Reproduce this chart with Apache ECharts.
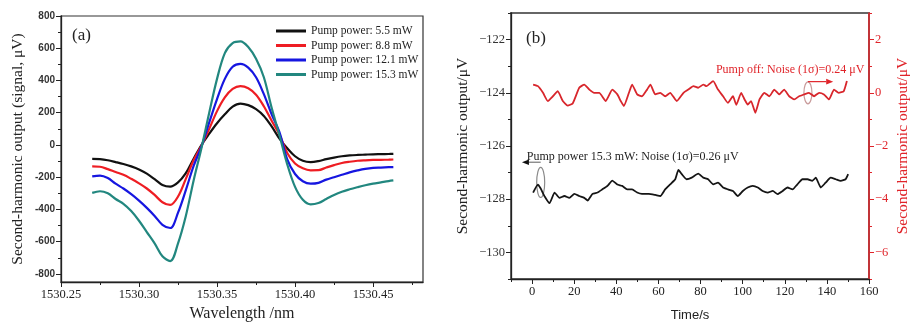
<!DOCTYPE html>
<html>
<head>
<meta charset="utf-8">
<script src="https://cdn.jsdelivr.net/npm/echarts@6/dist/echarts.min.js"></script>
<style>
  html, body { margin: 0; padding: 0; background: #fff; }
  #chart { width: 912px; height: 327px; }
</style>
</head>
<body>
<div id="chart"></div>
<script>
// ---- Panel (a): second-harmonic line shape vs wavelength ----
const wavelength = [
  1530.270, 1530.275, 1530.280, 1530.285, 1530.290, 1530.295, 1530.300, 1530.305,
  1530.310, 1530.315, 1530.320, 1530.325, 1530.330, 1530.335, 1530.340, 1530.345,
  1530.350, 1530.355, 1530.360, 1530.365, 1530.370, 1530.375, 1530.380, 1530.385,
  1530.390, 1530.395, 1530.400, 1530.405, 1530.410, 1530.415, 1530.420, 1530.425,
  1530.430, 1530.435, 1530.440, 1530.445, 1530.450, 1530.455, 1530.460, 1530.463
];
const signal55 = [-86, -88, -95, -106, -118, -133, -152, -178, -212, -248, -258, -232, -175, -85, 0, 70,
  135, 190, 238, 257, 247, 222, 180, 115, 40, -20, -70, -98, -106, -100, -88, -78, -70, -65, -62, -60, -58, -57, -56, -55];
const signal88 = [-133, -135, -150, -168, -185, -210, -238, -270, -310, -355, -372, -320, -210, -95, -5, 100,
  210, 295, 348, 365, 352, 312, 240, 150, 65, -50, -115, -145, -157, -156, -140, -125, -112, -104, -98, -95, -93, -92, -91, -90];
const signal121 = [-195, -190, -205, -240, -270, -305, -345, -390, -440, -495, -515, -420, -280, -130, -10, 140,
  285, 410, 485, 503, 480, 420, 315, 190, 80, -90, -180, -225, -240, -235, -215, -200, -185, -170, -158, -148, -142, -140, -138, -137];
const signal153 = [-297, -287, -300, -335, -365, -410, -470, -540, -610, -690, -720, -610, -440, -220, -20, 200,
  410, 570, 632, 643, 608, 535, 420, 230, 60, -120, -260, -340, -368, -360, -335, -310, -290, -275, -262, -250, -240, -232, -224, -220];
const pumpNames = ['Pump power: 5.5 mW', 'Pump power: 8.8 mW', 'Pump power: 12.1 mW', 'Pump power: 15.3 mW'];
const wlMajor = [1530.25, 1530.30, 1530.35, 1530.40, 1530.45];
const wlMinor = [1530.275, 1530.325, 1530.375, 1530.425, 1530.475];
const sigMajor = [-800, -600, -400, -200, 0, 200, 400, 600, 800];
const sigMinor = [-700, -500, -300, -100, 100, 300, 500, 700];

// ---- Panel (b): output drift over time ----
const timeOff = [0.5, 2.8, 5.2, 7.5, 9.9, 12.2, 14.6, 16.9, 19.3, 22.4, 24.8, 27.2, 29.5, 31.9, 35, 38.1,
  40.5, 42.1, 43.6, 46, 47.5, 49.9, 52.2, 54.6, 56.2, 58.5, 60.9, 63.2, 65.6, 68.7, 71.9, 74.2, 76.6,
  78.9, 81.3, 82.8, 86, 88.3, 90.7, 93, 95.4, 97, 99.3, 100.9, 102.4, 104, 106, 108, 110.3, 112.7, 115,
  117.4, 119.7, 122.1, 124.5, 126.8, 129.2, 131.5, 133.9, 136.3, 138.6, 141, 143.4, 145.6, 148, 149.5];
const outputOff = [0.31, 0.25, 0, -0.31, -0.13, 0.06, -0.31, -0.48, -0.4, 0.19, 0.31, 0.12, 0, 0, -0.31, 0.12,
  -0.06, -0.31, -0.5, 0, 0.31, -0.06, -0.13, 0.12, 0.31, -0.06, 0, -0.13, 0, -0.31, 0, 0.12, 0.25,
  0.19, 0.31, 0.25, 0.44, 0.12, -0.13, -0.38, -0.13, -0.45, 0, -0.25, -0.44, -0.31, -0.75, -0.25, 0, -0.13, 0.12,
  -0.06, 0.12, -0.13, -0.25, -0.13, -0.06, 0, -0.13, 0, -0.06, -0.25, 0.12, 0, 0.06, 0.44];
const timeOn = [0.5, 2.8, 4.1, 6, 8.3, 10.7, 13, 15.4, 17.7, 20.1, 22.4, 24.8, 26.4, 28.7, 31.1, 33.4,
  35.8, 38.1, 40.5, 42.8, 45.2, 47.5, 49.9, 52.2, 55.4, 58.5, 60.9, 63.2, 65.6, 68, 69.5, 71.1, 73.4,
  75.8, 78.9, 81.3, 83.6, 86, 88.3, 90.7, 93, 95.4, 97.7, 100.1, 102.4, 104.8, 107.2, 109.5, 111.9, 114.3,
  116.6, 119, 121.3, 123.7, 126, 128.4, 130.8, 133.1, 134.7, 137.1, 139.4, 141.8, 144.2, 146.6, 148.9, 150.1];
const outputOn = [-127.75, -127.45, -127.6, -127.9, -128.15, -127.75, -127.95, -127.88, -127.95, -127.8, -127.88,
  -127.95, -128.05, -127.8, -127.75, -127.63, -127.5, -127.3, -127.45, -127.5, -127.63, -127.63, -127.75, -127.8,
  -127.8, -127.84, -127.88, -127.63, -127.44, -127.25, -126.9, -127.06, -127.25, -127.19, -127.04, -127.19, -127.25,
  -127.44, -127.38, -127.56, -127.63, -127.69, -127.88, -127.69, -127.56, -127.5, -127.56, -127.69, -127.75, -127.69,
  -127.81, -127.69, -127.56, -127.63, -127.44, -127.25, -127.25, -127.31, -127.19, -127.56, -127.38, -127.19,
  -127.25, -127.31, -127.25, -127.06];
const timeMajor = [0, 20, 40, 60, 80, 100, 120, 140, 160];
const timeMinor = [-10, 10, 30, 50, 70, 90, 110, 130, 150];
const leftMajor = [-130, -128, -126, -124, -122];
const leftMinor = [-131, -129, -127, -125, -123, -121];
const rightMajor = [-6, -4, -2, 0, 2];
const rightMinor = [-7, -5, -3, -1, 1, 3];
const noteOff = 'Pump off: Noise (1σ)=0.24 μV';
const noteOn = 'Pump power 15.3 mW: Noise (1σ)=0.26 μV';

const zip = (xs, ys) => xs.map((x, i) => [x, ys[i]]);
const minus = v => (v < 0 ? '−' + Math.abs(v) : String(v));

const SERIF = '"Liberation Serif", "DejaVu Serif", serif';
const SANS = '"Liberation Sans", Arial, sans-serif';
const RED = '#e0242a';
const lineColors = ['#111111', '#ee1d23', '#1616e0', '#22877f'];

function mainAxis(opts) {
  return Object.assign({
    type: 'value',
    splitLine: { show: false },
    axisTick: { show: true, inside: false, length: 5, lineStyle: { color: '#222', width: 1 } },
    axisLine: { show: true, onZero: false, lineStyle: { color: '#222', width: 1.3 } }
  }, opts);
}
function minorAxis(opts, ticks, color) {
  return Object.assign({
    type: 'value',
    splitLine: { show: false },
    axisLine: { show: false, onZero: false },
    axisLabel: { show: false },
    axisTick: { show: true, inside: false, length: 3, customValues: ticks, lineStyle: { color: color || '#222', width: 1 } }
  }, opts);
}

const chart = echarts.init(document.getElementById('chart'), null, { renderer: 'canvas' });

const option = {
  animation: false,
  backgroundColor: '#fff',
  grid: [
    { left: 61, top: 16, width: 362, height: 268, show: true, borderColor: '#333', borderWidth: 1.2, backgroundColor: 'transparent' },
    { left: 511, top: 13, width: 361, height: 268, show: true, borderColor: '#666', borderWidth: 2, backgroundColor: 'transparent' }
  ],
  legend: {
    orient: 'vertical', left: 271, top: 20, itemWidth: 30, itemHeight: 3, itemGap: 2.5,
    icon: 'rect', data: pumpNames,
    textStyle: { fontFamily: SERIF, fontSize: 11.5, color: '#222' }
  },
  xAxis: [
    mainAxis({
      gridIndex: 0, min: 1530.25, max: 1530.482, interval: 0.05,
      name: 'Wavelength /nm', nameLocation: 'middle', nameGap: 24,
      nameTextStyle: { fontFamily: SERIF, fontSize: 16, color: '#222' },
      axisTick: { show: true, length: 5, customValues: wlMajor, lineStyle: { color: '#222' } },
      axisLabel: { customValues: wlMajor, formatter: v => v.toFixed(2), fontFamily: SERIF, fontSize: 12.5, color: '#222', margin: 6 }
    }),
    minorAxis({ gridIndex: 0, position: 'bottom', min: 1530.25, max: 1530.482, interval: 0.05 }, wlMinor),
    mainAxis({
      gridIndex: 1, min: -10, max: 160, interval: 10,
      name: 'Time/s', nameLocation: 'middle', nameGap: 30,
      nameTextStyle: { fontFamily: SANS, fontSize: 13, color: '#222' },
      axisTick: { show: true, length: 5, customValues: timeMajor, lineStyle: { color: '#222' } },
      axisLabel: { customValues: timeMajor, fontFamily: SERIF, fontSize: 12.5, color: '#222', margin: 6 }
    }),
    minorAxis({ gridIndex: 1, position: 'bottom', min: -10, max: 160, interval: 10 }, timeMinor)
  ],
  yAxis: [
    mainAxis({
      gridIndex: 0, min: -850, max: 800, interval: 50,
      name: 'Second-harmonic output (signal, μV)', nameLocation: 'middle', nameGap: 35,
      nameTextStyle: { fontFamily: SERIF, fontSize: 15.5, color: '#222' },
      axisTick: { show: true, length: 5, customValues: sigMajor, lineStyle: { color: '#222' } },
      axisLabel: { customValues: sigMajor, fontFamily: SANS, fontSize: 10, fontWeight: 'bold', color: '#333', margin: 6 }
    }),
    minorAxis({ gridIndex: 0, position: 'left', min: -850, max: 800, interval: 50 }, sigMinor),
    mainAxis({
      gridIndex: 1, position: 'left', min: -131, max: -121, interval: 1,
      name: 'Second-harmonic output/μV', nameLocation: 'middle', nameGap: 40,
      nameTextStyle: { fontFamily: SERIF, fontSize: 15.5, color: '#222' },
      axisTick: { show: true, length: 5, customValues: leftMajor, lineStyle: { color: '#222' } },
      axisLabel: { customValues: leftMajor, formatter: minus, fontFamily: SERIF, fontSize: 12.5, color: '#333', margin: 6 }
    }),
    minorAxis({ gridIndex: 1, position: 'left', min: -131, max: -121, interval: 1 }, leftMinor),
    mainAxis({
      gridIndex: 1, position: 'right', min: -7, max: 3, interval: 1,
      name: 'Second-harmonic output/μV', nameLocation: 'middle', nameGap: 26, nameRotate: 90,
      nameTextStyle: { fontFamily: SERIF, fontSize: 15.5, color: RED },
      axisLine: { show: true, onZero: false, lineStyle: { color: RED, width: 1.5 } },
      axisTick: { show: true, length: 5, customValues: rightMajor, lineStyle: { color: RED } },
      axisLabel: { customValues: rightMajor, formatter: minus, fontFamily: SERIF, fontSize: 12.5, color: RED, margin: 6 }
    }),
    minorAxis({ gridIndex: 1, position: 'right', min: -7, max: 3, interval: 1 }, rightMinor, RED)
  ],
  series: [
    ...[signal55, signal88, signal121, signal153].map((vals, i) => ({
      name: pumpNames[i], type: 'line', xAxisIndex: 0, yAxisIndex: 0,
      data: zip(wavelength, vals), showSymbol: false, smooth: 0.35,
      itemStyle: { color: lineColors[i] },
      lineStyle: { color: lineColors[i], width: 2.2 }
    })),
    {
      name: 'Pump off', type: 'line', xAxisIndex: 2, yAxisIndex: 4,
      data: zip(timeOff, outputOff), showSymbol: false, smooth: 0.15,
      lineStyle: { color: '#d8262c', width: 1.8 }
    },
    {
      name: 'Pump on', type: 'line', xAxisIndex: 2, yAxisIndex: 2,
      data: zip(timeOn, outputOn), showSymbol: false, smooth: 0.15,
      lineStyle: { color: '#151515', width: 1.8 }
    }
  ]
};
chart.setOption(option);

// Annotations placed in data coordinates of panel (b)
const onPx = p => chart.convertToPixel({ xAxisIndex: 2, yAxisIndex: 2 }, p);
const offPx = p => chart.convertToPixel({ xAxisIndex: 2, yAxisIndex: 4 }, p);

function arrow(from, to, lineColor, headColor) {
  const dir = Math.sign(to[0] - from[0]);
  const tip = to, base = tip[0] - dir * 7;
  return [
    { type: 'polyline', shape: { points: [from, [base, tip[1]]] }, style: { stroke: lineColor, lineWidth: 1.2, fill: null } },
    { type: 'polygon', shape: { points: [tip, [base, tip[1] - 2.8], [base, tip[1] + 2.8]] }, style: { fill: headColor } }
  ];
}

const eOn = onPx([4.1, -127.37]);
const aOnFrom = onPx([4.1, -126.61]), aOnTo = onPx([-4.8, -126.61]);
const tOn = onPx([-2.5, -126.39]);
const eOff = offPx([131, 0]);
const aOffFrom = offPx([131, 0.42]), aOffTo = offPx([143, 0.42]);
const tOff = offPx([87.3, 0.87]);

chart.setOption({
  graphic: [
    { type: 'text', left: 72, top: 27, style: { text: '(a)', font: '17px ' + SERIF, fill: '#222' } },
    { type: 'text', left: 526, top: 30, style: { text: '(b)', font: '17px ' + SERIF, fill: '#222' } },
    { type: 'ellipse', shape: { cx: eOn[0], cy: eOn[1], rx: 4, ry: 15 }, style: { fill: null, stroke: '#8a8a8a', lineWidth: 1.2 } },
    ...arrow(aOnFrom, aOnTo, '#777', '#111'),
    { type: 'text', x: tOn[0], y: tOn[1], style: { text: noteOn, font: '12px ' + SERIF, fill: '#222', verticalAlign: 'middle', align: 'left' } },
    { type: 'ellipse', shape: { cx: eOff[0], cy: eOff[1], rx: 4, ry: 11 }, style: { fill: null, stroke: '#c89a9a', lineWidth: 1.2 } },
    ...arrow(aOffFrom, aOffTo, RED, RED),
    { type: 'text', x: tOff[0], y: tOff[1], style: { text: noteOff, font: '12px ' + SERIF, fill: RED, verticalAlign: 'middle', align: 'left' } }
  ]
});
</script>
</body>
</html>
